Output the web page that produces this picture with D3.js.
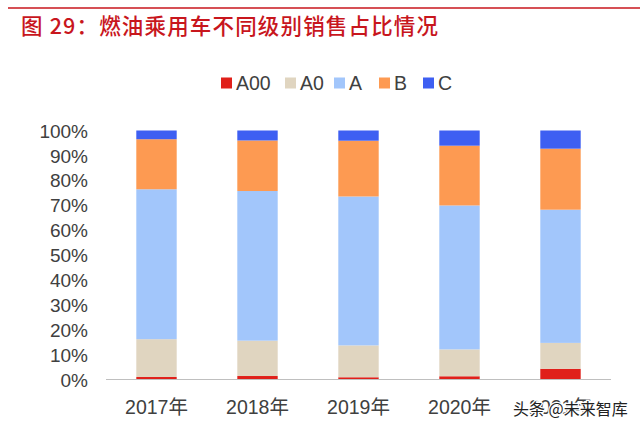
<!DOCTYPE html>
<html><head><meta charset="utf-8">
<script src="https://cdn.jsdelivr.net/npm/d3@7"></script>
<style>body{margin:0;background:#fff}svg{display:block}</style>
</head><body>
<svg id="c" width="640" height="431"></svg>
<script>
const categories = ["2017年","2018年","2019年","2020年","2021年"];
const seriesNames = ["A00","A0","A","B","C"];
const A00 = [1.0, 1.4, 0.9, 1.3, 4.3];
const A0  = [15.2, 14.2, 12.8, 10.8, 10.4];
const A   = [60.2, 60.1, 59.8, 57.8, 53.5];
const B   = [20.1, 20.3, 22.4, 24.0, 24.5];
const C   = [3.5, 4.0, 4.1, 6.1, 7.3];
const yTicks = [0,10,20,30,40,50,60,70,80,90,100];
const colors = ["#e0201a","#e0d5c0","#a2c6fb","#fd9a52","#3e5ff2"];

const svg = d3.select("#c");
const font = "Arial, 'Liberation Sans', 'Noto Sans CJK SC', sans-serif";
const cjk = "'Noto Sans CJK SC', sans-serif";

// top rule & title
svg.append("line").attr("x1",8).attr("x2",640).attr("y1",8).attr("y2",8)
  .attr("stroke","#c8161d").attr("stroke-width",1.5);
svg.append("text").attr("x",21).attr("y",34).attr("fill","#c8161d")
  .attr("font-family",cjk).attr("font-size",21.5).attr("font-weight",500)
  .attr("textLength",417).attr("lengthAdjust","spacing")
  .text("图 29：燃油乘用车不同级别销售占比情况");

const series = [A00,A0,A,B,C];
const rows = categories.map((c,i)=>{const r={cat:c}; seriesNames.forEach((s,j)=>r[s]=series[j][i]); return r;});
const stacked = d3.stack().keys(seriesNames)(rows);

const x = d3.scaleBand().domain(categories).range([106,611]).paddingInner(0.6).paddingOuter(0.3);
const y = d3.scaleLinear().domain([0,100]).range([379.5,130.5]);

// bars
svg.append("g").selectAll("g").data(stacked).join("g").attr("fill",(d,i)=>colors[i])
  .selectAll("rect").data(d=>d).join("rect")
  .attr("x",d=>x(d.data.cat)).attr("width",x.bandwidth())
  .attr("y",d=>y(Math.min(100,d[1]))).attr("height",d=>y(d[0])-y(Math.min(100,d[1])));

// axis line
svg.append("line").attr("x1",106).attr("x2",611).attr("y1",379.5).attr("y2",379.5)
  .attr("stroke","#bfbfbf").attr("stroke-width",1.2);

// y axis labels
const yAxis = d3.axisLeft(y).tickValues(yTicks).tickFormat(d=>d+"%").tickSize(0).tickPadding(0);
const yg = svg.append("g").attr("transform","translate(88,0)").call(yAxis);
yg.select(".domain").remove();
yg.selectAll("text").attr("font-family",font).attr("font-size",19).attr("fill","#404040").attr("dy","0.35em");

// x axis labels
const xAxis = d3.axisBottom(x).tickSize(0).tickPadding(0);
const xg = svg.append("g").attr("transform","translate(0,400)").call(xAxis);
xg.select(".domain").remove();
xg.selectAll("text").attr("font-family",font).attr("font-size",19.5).attr("fill","#404040").attr("dy","0.71em");

// legend
const lx = [221, 285, 334, 379, 423];
const lg = svg.append("g");
seriesNames.forEach((s,i)=>{
  lg.append("rect").attr("x",lx[i]).attr("y",77.5).attr("width",11).attr("height",11).attr("fill",colors[i]);
  lg.append("text").attr("x",lx[i]+15).attr("y",90).attr("font-family",font).attr("font-size",19.5)
    .attr("fill","#404040").text(s);
});

// watermark
svg.append("text").attr("x",513).attr("y",415).attr("font-family",cjk).attr("font-size",16)
  .attr("fill","#222").attr("stroke","#fff").attr("stroke-width",2.5).attr("paint-order","stroke")
  .text("头条 @未来智库");
</script>
</body></html>
